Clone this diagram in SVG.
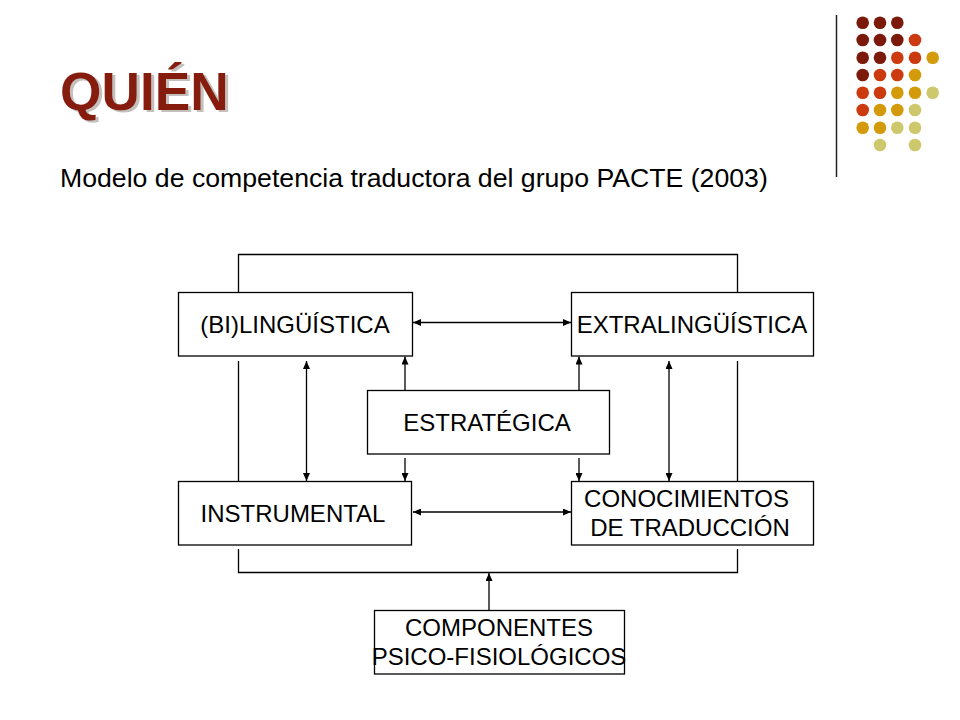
<svg xmlns="http://www.w3.org/2000/svg" width="960" height="720" viewBox="0 0 960 720">
<defs>
<style>
.box{fill:#fff;stroke:#000;stroke-width:1.3}
.lbl{font-family:"Liberation Sans",Arial,sans-serif;font-size:24px;fill:#000;text-anchor:middle}
.ln{fill:none;stroke:#000;stroke-width:1.3}
.title{font-family:"Liberation Sans",Arial,sans-serif;font-size:53.3px;font-weight:bold}
.sub{font-family:"Liberation Sans",Arial,sans-serif;font-size:26.67px;fill:#000}
.c1{fill:#7B1A0B}.c2{fill:#CC3A10}.c3{fill:#D39A0C}.c4{fill:#CDC86C}
</style>
<filter id="shadow" x="-10%" y="-20%" width="130%" height="150%">
<feOffset in="SourceAlpha" dx="2.5" dy="2" result="o"/>
<feFlood flood-color="#b8b0ac" flood-opacity="0.8"/>
<feComposite in2="o" operator="in" result="s"/>
<feMerge><feMergeNode in="s"/><feMergeNode in="SourceGraphic"/></feMerge>
</filter>
<marker id="ah" viewBox="0 0 8 7" refX="8" refY="3.5" markerWidth="8" markerHeight="7" markerUnits="userSpaceOnUse" orient="auto-start-reverse">
<path d="M0,0 L8,3.5 L0,7 z" fill="#000"/>
</marker>
</defs>
<rect width="960" height="720" fill="#fff"/>

<g id="decor">
<line x1="836.5" y1="15" x2="836.5" y2="177" stroke="#222" stroke-width="1.5"/>
<g>
<circle class="c1" cx="862.7" cy="22.7" r="6.3"/><circle class="c1" cx="880" cy="22.7" r="6.3"/><circle class="c1" cx="897.3" cy="22.7" r="6.3"/>
<circle class="c1" cx="862.7" cy="40" r="6.3"/><circle class="c1" cx="880" cy="40" r="6.3"/><circle class="c1" cx="897.3" cy="40" r="6.3"/><circle class="c2" cx="915" cy="40" r="6.3"/>
<circle class="c1" cx="862.7" cy="57.7" r="6.3"/><circle class="c1" cx="880" cy="57.7" r="6.3"/><circle class="c2" cx="897.3" cy="57.7" r="6.3"/><circle class="c2" cx="915" cy="57.7" r="6.3"/><circle class="c3" cx="932.7" cy="57.7" r="6.3"/>
<circle class="c1" cx="862.7" cy="75" r="6.3"/><circle class="c2" cx="880" cy="75" r="6.3"/><circle class="c2" cx="897.3" cy="75" r="6.3"/><circle class="c3" cx="915" cy="75" r="6.3"/>
<circle class="c2" cx="862.7" cy="92.7" r="6.3"/><circle class="c2" cx="880" cy="92.7" r="6.3"/><circle class="c3" cx="897.3" cy="92.7" r="6.3"/><circle class="c3" cx="915" cy="92.7" r="6.3"/><circle class="c4" cx="932.7" cy="92.7" r="6.3"/>
<circle class="c2" cx="862.7" cy="110" r="6.3"/><circle class="c3" cx="880" cy="110" r="6.3"/><circle class="c3" cx="897.3" cy="110" r="6.3"/><circle class="c4" cx="915" cy="110" r="6.3"/>
<circle class="c3" cx="862.7" cy="127.7" r="6.3"/><circle class="c3" cx="880" cy="127.7" r="6.3"/><circle class="c4" cx="897.3" cy="127.7" r="6.3"/><circle class="c4" cx="915" cy="127.7" r="6.3"/>
<circle class="c4" cx="880" cy="145" r="6.3"/><circle class="c4" cx="915" cy="145" r="6.3"/>
</g>
</g>

<g id="heading">
<text class="title" x="60" y="110" fill="#861C0C" filter="url(#shadow)">QUIÉN</text>
<text class="sub" x="60" y="187">Modelo de competencia traductora del grupo PACTE (2003)</text>
</g>

<g id="connectors">
<polyline class="ln" points="238.5,292.5 238.5,254.5 737.5,254.5 737.5,292.5"/>
<line class="ln" x1="238.5" y1="361" x2="238.5" y2="481.5"/>
<line class="ln" x1="737.5" y1="361" x2="737.5" y2="481.5"/>
<polyline class="ln" points="238.5,549 238.5,572.5 737.5,572.5 737.5,549"/>
<line class="ln" x1="489" y1="610.5" x2="489" y2="573" marker-end="url(#ah)"/>
<line class="ln" x1="413" y1="322.5" x2="571" y2="322.5" marker-start="url(#ah)" marker-end="url(#ah)"/>
<line class="ln" x1="413" y1="512" x2="571" y2="512" marker-start="url(#ah)" marker-end="url(#ah)"/>
<line class="ln" x1="306.5" y1="361" x2="306.5" y2="481" marker-start="url(#ah)" marker-end="url(#ah)"/>
<line class="ln" x1="669" y1="361" x2="669" y2="481" marker-start="url(#ah)" marker-end="url(#ah)"/>
<line class="ln" x1="405" y1="390.5" x2="405" y2="356.5" marker-end="url(#ah)"/>
<line class="ln" x1="579" y1="390.5" x2="579" y2="356.5" marker-end="url(#ah)"/>
<line class="ln" x1="405" y1="458" x2="405" y2="481" marker-end="url(#ah)"/>
<line class="ln" x1="579" y1="458" x2="579" y2="481" marker-end="url(#ah)"/>
</g>

<g id="n-bilinguistica">
<rect class="box" x="178.5" y="292.5" width="234" height="63.5"/>
<text class="lbl" x="295" y="333">(BI)LINGÜÍSTICA</text>
</g>
<g id="n-extralinguistica">
<rect class="box" x="571.5" y="292.5" width="242" height="63.5"/>
<text class="lbl" x="692" y="333">EXTRALINGÜÍSTICA</text>
</g>
<g id="n-estrategica">
<rect class="box" x="367.5" y="390.5" width="242" height="63.5"/>
<text class="lbl" x="487" y="431">ESTRATÉGICA</text>
</g>
<g id="n-instrumental">
<rect class="box" x="178.5" y="481.5" width="233" height="63.5"/>
<text class="lbl" x="293" y="521.5">INSTRUMENTAL</text>
</g>
<g id="n-conocimientos">
<rect class="box" x="571.5" y="481.5" width="242" height="63.5"/>
<text class="lbl" x="686.5" y="506.5">CONOCIMIENTOS</text>
<text class="lbl" x="690" y="535.5">DE TRADUCCIÓN</text>
</g>
<g id="n-componentes">
<rect class="box" x="374.5" y="610.5" width="250" height="63.5"/>
<text class="lbl" x="499" y="636">COMPONENTES</text>
<text class="lbl" x="499" y="665">PSICO-FISIOLÓGICOS</text>
</g>
</svg>
